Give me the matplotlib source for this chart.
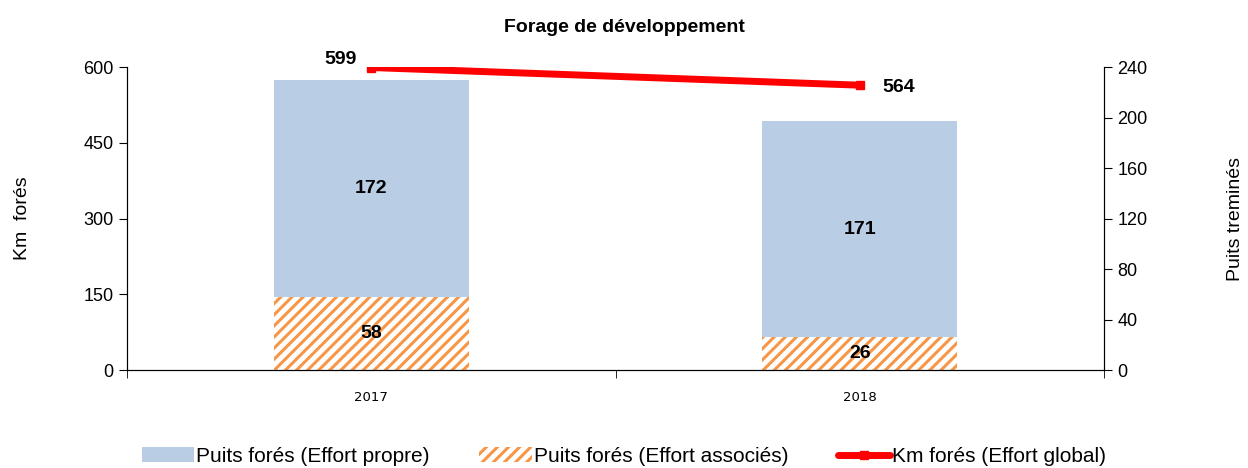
import matplotlib
matplotlib.use("Agg")
import matplotlib.pyplot as plt
import numpy as np

plt.rcParams['font.family'] = ['Liberation Sans', 'DejaVu Sans']
plt.rcParams['hatch.linewidth'] = 2.2

# DATA
years = ["2017", "2018"]
puits_propre = [172, 171]
puits_associes = [58, 26]
km_fores = [599, 564]

fig = plt.figure(figsize=(12.48, 4.68), dpi=100)
ax = fig.add_axes([0.1018, 0.2094, 0.7828, 0.6474])
ax2 = ax.twinx()

x = np.arange(len(years))

# bars on the right axis (puits)
ax2.bar(x, puits_associes, width=0.4, color="white", edgecolor="#F79646",
        hatch="///", linewidth=0, label="Puits forés (Effort associés)")
ax2.bar(x, puits_propre, width=0.4, bottom=puits_associes, color="#B9CDE5",
        linewidth=0, label="Puits forés (Effort propre)")

for i in range(len(years)):
    ax2.text(x[i], puits_associes[i] / 2, str(puits_associes[i]), ha="center", va="center",
             fontsize=14, fontweight="bold")
    ax2.text(x[i], puits_associes[i] + puits_propre[i] / 2, str(puits_propre[i]),
             ha="center", va="center", fontsize=14, fontweight="bold")

# line on the left axis (km), drawn above bars
ax.set_zorder(ax2.get_zorder() + 1)
ax.patch.set_visible(False)
ax.plot(x, km_fores, color="red", linewidth=5, marker="s", markersize=6,
        label="Km forés (Effort global)", solid_capstyle="round")
ax.annotate(str(km_fores[0]), (x[0], km_fores[0]), xytext=(-22, 6), textcoords="offset points",
            ha="center", va="center", fontsize=14, fontweight="bold")
ax.annotate(str(km_fores[1]), (x[1], km_fores[1]), xytext=(28, -2), textcoords="offset points",
            ha="center", va="center", fontsize=14, fontweight="bold")

ax.set_xlim(-0.5, 1.5)
ax.set_ylim(0, 600)
ax.set_yticks([0, 150, 300, 450, 600])
ax2.set_ylim(0, 240)
ax2.set_yticks([0, 40, 80, 120, 160, 200, 240])

ax.set_xticks(x)
ax.set_xticklabels(years, fontsize=9.5, family="DejaVu Sans")
ax.set_xticks([-0.5, 0.5, 1.5], minor=True)
ax.tick_params(axis="x", which="major", length=0, pad=15)
ax.tick_params(axis="x", which="minor", length=6, direction="out")
ax.tick_params(axis="y", labelsize=13, length=6, direction="out")
ax2.tick_params(axis="y", labelsize=13, length=6, direction="out")

ax.spines["top"].set_visible(False)
ax2.spines["top"].set_visible(False)

ax.set_ylabel("Km  forés", fontsize=14)
ax2.set_ylabel("Puits treminés", fontsize=14)
ax.yaxis.set_label_coords(-0.098, 0.5)
ax2.yaxis.set_label_coords(1.126, 0.5)

fig.text(0.5, 0.942, "Forage de développement", ha="center", va="center",
         fontsize=14, fontweight="bold")

h1, l1 = ax2.get_legend_handles_labels()
h2, l2 = ax.get_legend_handles_labels()
handles = [h1[1], h1[0], h2[0]]
labels = [l1[1], l1[0], l2[0]]
fig.legend(handles, labels, loc="center", bbox_to_anchor=(0.5, 0.025), ncol=3,
           frameon=False, fontsize=15, handlelength=2.5, handletextpad=0.1,
           columnspacing=2.4)

fig.savefig("out.png", dpi=100)
